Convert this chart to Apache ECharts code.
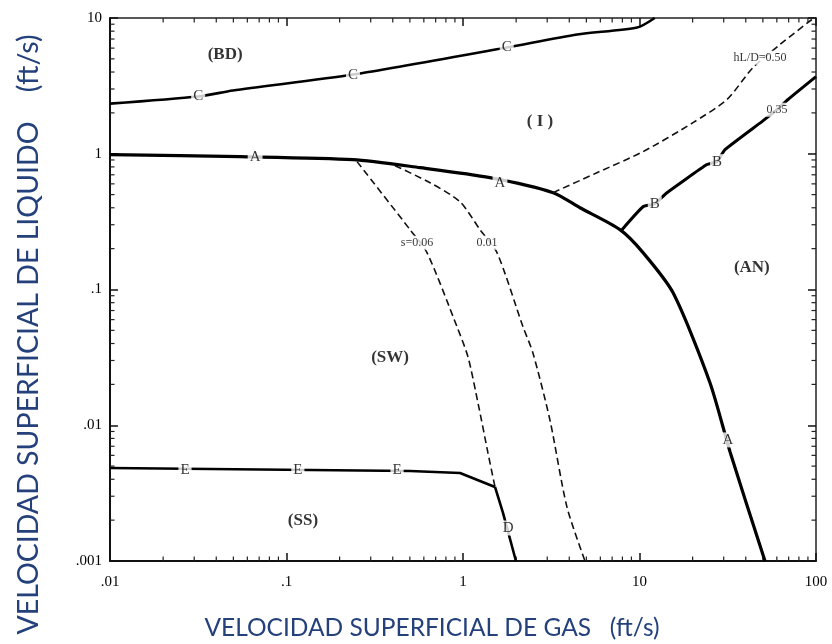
<!DOCTYPE html>
<html>
<head>
<meta charset="utf-8">
<script src="https://cdn.jsdelivr.net/npm/echarts@6/dist/echarts.min.js"></script>
<style>html,body{margin:0;padding:0;background:#fff}#chart{width:832px;height:644px}</style>
</head>
<body>
<div id="chart"></div>
<script>
// ---- axis ranges and tick labels ----
const xRange = [0.01, 100];
const yRange = [0.001, 10];
const xTickValues = [0.01, 0.1, 1, 10, 100];
const xTickLabels = ['.01', '.1', '1', '10', '100'];
const yTickValues = [0.001, 0.01, 0.1, 1, 10];
const yTickLabels = ['.001', '.01', '.1', '1', '10'];
const minorMultipliers = [2, 3, 4, 5, 6, 7, 8, 9];

// ---- boundary curves [gas velocity, liquid velocity] ----
const curveA = [[0.01,0.985],[0.0545,0.952],[0.238,0.905],[0.571,0.79],[1.42,0.667],[3.24,0.517],[4.6,0.4],[7.75,0.276],[10.47,0.187],[15.5,0.0945],[25.1,0.0205],[32.6,0.00636],[51.4,0.001]];
const curveB = [[7.96,0.276],[10.47,0.407],[12.2,0.428],[14.3,0.516],[24.1,0.832],[27.5,0.875],[30.5,1.072],[49.4,1.726],[60.1,2.11],[69.4,2.51],[100,3.7]];
const curveC = [[0.01,2.34],[0.0316,2.64],[0.0497,2.92],[0.238,3.83],[1.77,6.06],[4.43,7.56],[9.7,8.51],[12.2,10]];
const curveE = [[0.01,0.00484],[0.501,0.0046],[0.962,0.00445],[1.518,0.00351]];
const curveD = [[1.518,0.00351],[1.685,0.00226],[1.995,0.001]];
const curveHL50 = [[3.24,0.517],[5.74,0.725],[10.47,1.036],[20.1,1.695],[31.3,2.51],[44.0,4.32],[62.5,6.38],[94.8,9.75]];
const curveS006 = [[0.251,0.875],[0.501,0.276],[0.625,0.187],[0.925,0.0531],[1.067,0.0319],[1.216,0.0146],[1.385,0.00625],[1.518,0.00351]];
const curveS001 = [[0.412,0.817],[0.65,0.612],[0.962,0.443],[1.248,0.276],[1.558,0.187],[2.188,0.0531],[2.49,0.0341],[3.11,0.0109],[3.88,0.0025],[4.91,0.001]];

// ---- labels [x, y, text] ----
const lineLabels = [[0.0664,0.952,'A'],[1.62,0.612,'A'],[31.7,0.0078,'A'],[12.2,0.428,'B'],[27.5,0.875,'B'],[0.0316,2.64,'C'],[0.238,3.83,'C'],[1.77,6.06,'C'],[0.0266,0.00468,'E'],[0.116,0.00468,'E'],[0.423,0.00468,'E'],[1.8,0.00175,'D']];
const paramLabels = [[0.549,0.221,'s=0.06'],[1.368,0.221,'0.01'],[48.2,5.1,'hL/D=0.50'],[60.1,2.11,'0.35']];
const regionLabels = [[0.0449,5.38,'(BD)'],[2.73,1.725,'( I )'],[43.3,0.1445,'(AN)'],[0.386,0.0314,'(SW)'],[0.124,0.002,'(SS)']];

const xName = 'VELOCIDAD SUPERFICIAL DE GAS   (ft/s)';
const yName = 'VELOCIDAD SUPERFICIAL DE LIQUIDO    (ft/s)';

function fmt(values, labels) {
  return function (v) {
    for (let i = 0; i < values.length; i++) {
      if (Math.abs(Math.log10(v) - Math.log10(values[i])) < 1e-6) return labels[i];
    }
    return '';
  };
}

// minor tick values (2..9 within each decade)
function minorValues(range) {
  const out = [];
  const k0 = Math.round(Math.log10(range[0]));
  const k1 = Math.round(Math.log10(range[1]));
  for (let k = k0; k < k1; k++) {
    minorMultipliers.forEach(m => out.push(m * Math.pow(10, k)));
  }
  return out;
}
const minorTickData = minorValues(xRange).map(v => [v, 1, 0]).concat(minorValues(yRange).map(v => [1, v, 1]));

const serif = '"Liberation Serif","DejaVu Serif",serif';
const titleColor = '#25417c';

const axisCommon = {
  type: 'log', logBase: 10,
  axisLine: { show: true, lineStyle: { color: '#111', width: 2 } },
  axisTick: { show: true, inside: true, length: 8, lineStyle: { color: '#111', width: 1.5 } },
  splitLine: { show: false }
};

function lineSeries(data, opts) {
  return Object.assign({
    type: 'line', data: data, symbol: 'none', smooth: 0.25,
    lineStyle: { color: '#000', width: 3 }, z: 3, silent: true
  }, opts || {});
}

const labelBase = { show: true, position: 'inside', formatter: p => p.name, color: '#000', textBorderWidth: 0, textShadowBlur: 0 };

const chart = echarts.init(document.getElementById('chart'));
chart.setOption({
  animation: false,
  backgroundColor: '#fff',
  grid: { left: 110, right: 16, top: 18, bottom: 83, containLabel: false, outerBoundsMode: 'none' },
  xAxis: [
    Object.assign({}, axisCommon, {
      min: xRange[0], max: xRange[1], position: 'bottom',
      name: xName, nameLocation: 'middle', nameGap: 55,
      nameTextStyle: { fontFamily: 'Lato, "Open Sans", sans-serif', fontSize: 24.5, color: titleColor, padding: [0, 62, 0, 0] },
      axisLabel: { formatter: fmt(xTickValues, xTickLabels), fontFamily: serif, fontSize: 15, color: '#000', margin: 14 }
    }),
    Object.assign({}, axisCommon, {
      min: xRange[0], max: xRange[1], position: 'top',
      axisLine: { show: true, lineStyle: { color: '#222', width: 1.5 } },
      axisLabel: { show: false }
    })
  ],
  yAxis: [
    Object.assign({}, axisCommon, {
      min: yRange[0], max: yRange[1], position: 'left',
      name: yName, nameLocation: 'middle', nameGap: 67, nameRotate: 90,
      nameTextStyle: { fontFamily: 'Lato, "Open Sans", sans-serif', fontSize: 28.5, color: titleColor, padding: [0, 90, 0, 0] },
      axisLabel: { formatter: fmt(yTickValues, yTickLabels), fontFamily: serif, fontSize: 15, color: '#000', margin: 8 }
    }),
    Object.assign({}, axisCommon, {
      min: yRange[0], max: yRange[1], position: 'right',
      axisLine: { show: true, lineStyle: { color: '#222', width: 1.5 } },
      axisLabel: { show: false }
    })
  ],
  series: [
    {
      type: 'custom', data: minorTickData, silent: true, z: 2, clip: false,
      renderItem: function (params, api) {
        const isY = api.value(2) === 1;
        const lo = api.coord([xRange[0], yRange[0]]);
        const hi = api.coord([xRange[1], yRange[1]]);
        const style = { stroke: '#222', lineWidth: 1.2 };
        const L = 4.5;
        if (!isY) {
          const px = api.coord([api.value(0), yRange[0]])[0];
          return { type: 'group', children: [
            { type: 'line', shape: { x1: px, y1: lo[1], x2: px, y2: lo[1] - L }, style: style },
            { type: 'line', shape: { x1: px, y1: hi[1], x2: px, y2: hi[1] + L }, style: style }
          ] };
        }
        const py = api.coord([xRange[0], api.value(1)])[1];
        return { type: 'group', children: [
          { type: 'line', shape: { x1: lo[0], y1: py, x2: lo[0] + L, y2: py }, style: style },
          { type: 'line', shape: { x1: hi[0], y1: py, x2: hi[0] - L, y2: py }, style: style }
        ] };
      }
    },
    lineSeries(curveA, { lineStyle: { color: '#000', width: 3.2 } }),
    lineSeries(curveB, { smooth: 0.15 }),
    lineSeries(curveC, { lineStyle: { color: '#000', width: 2.6 } }),
    lineSeries(curveE, { smooth: 0, lineStyle: { color: '#000', width: 2.6 } }),
    lineSeries(curveD, { smooth: 0, lineStyle: { color: '#000', width: 2.6 } }),
    lineSeries(curveHL50, { lineStyle: { color: '#111', width: 1.6, type: [7, 4] } }),
    lineSeries(curveS006, { lineStyle: { color: '#111', width: 1.6, type: [7, 4] } }),
    lineSeries(curveS001, { lineStyle: { color: '#111', width: 1.6, type: [7, 4] } }),
    {
      type: 'scatter', data: lineLabels.map(d => ({ value: [d[0], d[1]], name: d[2] })),
      symbolSize: 0, z: 5, silent: true, itemStyle: { color: '#000' },
      label: Object.assign({}, labelBase, { fontFamily: serif, fontSize: 15, backgroundColor: '#fff', padding: [0, 2] })
    },
    {
      type: 'scatter', data: paramLabels.map(d => ({ value: [d[0], d[1]], name: d[2] })),
      symbolSize: 0, z: 5, silent: true, itemStyle: { color: '#000' },
      label: Object.assign({}, labelBase, { fontFamily: serif, fontSize: 12, backgroundColor: '#fff', padding: [1, 1] })
    },
    {
      type: 'scatter', data: regionLabels.map(d => ({ value: [d[0], d[1]], name: d[2] })),
      symbolSize: 0, z: 5, silent: true, itemStyle: { color: '#000' },
      label: Object.assign({}, labelBase, { fontFamily: serif, fontWeight: 'bold', fontSize: 17 })
    }
  ]
});
</script>
</body>
</html>
